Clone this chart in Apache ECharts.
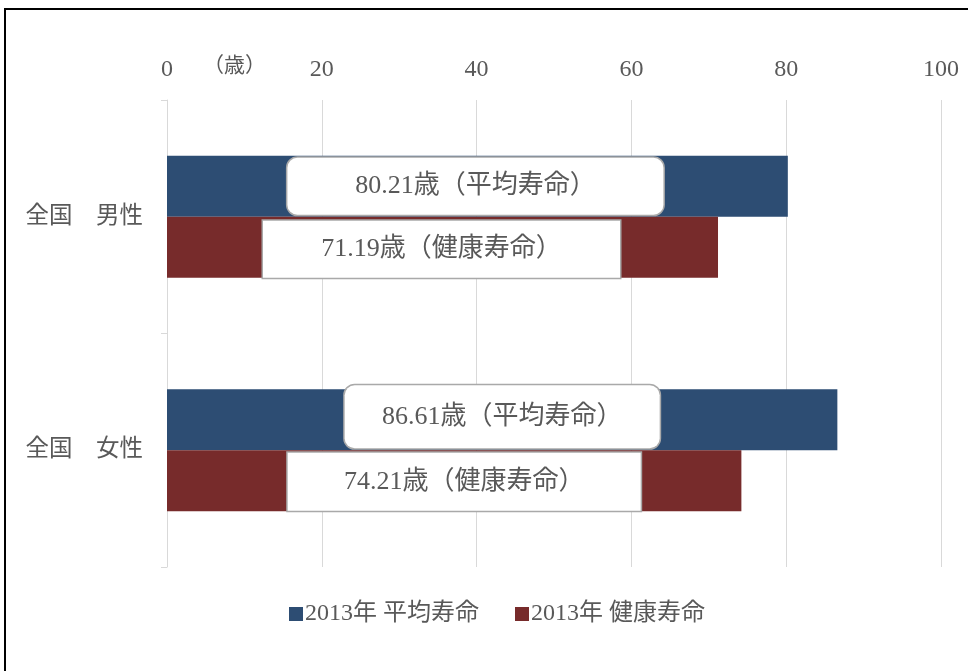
<!DOCTYPE html>
<html>
<head>
<meta charset="utf-8">
<script src="https://cdn.jsdelivr.net/npm/echarts@6/dist/echarts.min.js"></script>
<style>
html,body{margin:0;padding:0;background:#fff;}
#chart{width:968px;height:671px;}
</style>
</head>
<body>
<div id="chart"></div>
<script>
// ---- data ----
const categories = ['全国　男性', '全国　女性'];
const seriesNames = ['2013年 平均寿命', '2013年 健康寿命'];
const avgLife = [80.21, 86.61];
const healthyLife = [71.19, 74.21];
const xTicks = [0, 20, 40, 60, 80, 100];
const unitLabel = '（歳）';

// ---- styles (label boxes) ----
const avgBoxes = [
  {width: 376, height: 57, offset: [-2, 0]},
  {width: 315, height: 63, offset: [0, -3]}
];
const healthyBoxes = [
  {width: 357, height: 57, offset: [-1, 2]},
  {width: 353, height: 58, offset: [10, 1]}
];

const FONT = '"Liberation Serif", "DejaVu Serif", "Noto Sans CJK JP", serif';
const TXT = '#595959';

function boxLabel(b, radius) {
  return {
    show: true,
    position: 'inside',
    width: b.width,
    height: b.height,
    lineHeight: b.height,
    offset: b.offset,
    align: 'center',
    verticalAlign: 'middle',
    backgroundColor: '#ffffff',
    borderColor: '#a9a9a9',
    borderWidth: 1.5,
    borderRadius: radius,
    padding: 0,
    color: TXT,
    fontSize: 26,
    fontFamily: FONT
  };
}

const chart = echarts.init(document.getElementById('chart'));
chart.setOption({
  animation: false,
  backgroundColor: '#fff',
  grid: {left: 167, right: 27, top: 100, bottom: 104, containLabel: false},
  legend: {
    bottom: 40,
    left: 284,
    itemWidth: 14,
    itemHeight: 14,
    itemGap: 36,
    icon: 'rect',
    textStyle: {color: TXT, fontSize: 24, fontFamily: FONT, padding: [0, 0, 0, -3]},
    data: seriesNames
  },
  xAxis: {
    type: 'value',
    position: 'top',
    min: xTicks[0],
    max: xTicks[xTicks.length - 1],
    interval: xTicks[1] - xTicks[0],
    axisLine: {show: false},
    axisTick: {show: false},
    axisLabel: {color: TXT, fontSize: 24, fontFamily: FONT, margin: 18},
    splitLine: {show: true, lineStyle: {color: '#d9d9d9', width: 1}}
  },
  yAxis: {
    type: 'category',
    inverse: true,
    data: categories,
    axisLine: {show: true, lineStyle: {color: '#d9d9d9', width: 1}},
    axisTick: {show: true, length: 6, lineStyle: {color: '#d9d9d9'}},
    axisLabel: {color: TXT, fontSize: 23.5, fontFamily: FONT, margin: 24}
  },
  series: [
    {
      name: seriesNames[0],
      type: 'bar',
      barWidth: 61,
      barGap: '0%',
      itemStyle: {color: '#2d4d73'},
      data: avgLife.map((v, i) => ({value: v, label: boxLabel(avgBoxes[i], 10)})),
      label: {formatter: '{c}歳（平均寿命）'}
    },
    {
      name: seriesNames[1],
      type: 'bar',
      barWidth: 61,
      barGap: '0%',
      itemStyle: {color: '#772b2b'},
      data: healthyLife.map((v, i) => ({value: v, label: boxLabel(healthyBoxes[i], 0)})),
      label: {formatter: '{c}歳（健康寿命）'}
    }
  ],
  graphic: [
    {
      type: 'rect',
      shape: {x: 5, y: 9, width: 1000, height: 700},
      style: {fill: 'none', stroke: '#000', lineWidth: 2},
      silent: true
    },
    {
      type: 'text',
      x: 203,
      y: 66,
      style: {text: unitLabel, fill: TXT, fontSize: 21, fontFamily: FONT, verticalAlign: 'middle'}
    }
  ]
});
</script>
</body>
</html>
